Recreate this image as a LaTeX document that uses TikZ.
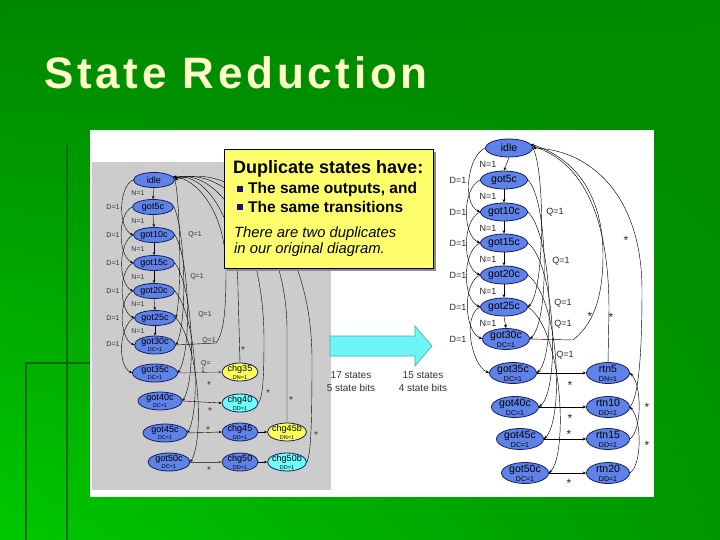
\documentclass[tikz,border=0pt]{standalone}
\usepackage{fontspec}
\setmainfont{Liberation Sans}
\newfontfamily\titlefont{Liberation Sans}[LetterSpace=8.5]
\usetikzlibrary{shapes.geometric,arrows.meta,shadings}
\definecolor{bgA}{RGB}{0,134,0}
\definecolor{bgB}{RGB}{0,138,0}
\definecolor{bgC}{RGB}{0,200,0}
\definecolor{bgD}{RGB}{0,150,0}
\definecolor{decoline}{RGB}{0,105,0}
\definecolor{titlecol}{RGB}{255,255,200}
\definecolor{stblue}{RGB}{95,130,232}
\definecolor{stline}{RGB}{20,30,100}
\definecolor{styel}{RGB}{255,255,90}
\definecolor{stcyan}{RGB}{110,255,255}
\definecolor{panelgray}{RGB}{204,204,204}
\definecolor{notebox}{RGB}{255,255,110}
\definecolor{bulletcol}{RGB}{20,20,120}
\definecolor{arrfill}{RGB}{110,245,245}
\definecolor{arrline}{RGB}{70,170,170}
\newcommand\sublab[1]{{\fontsize{7}{7}\selectfont #1}}
\newcommand\lsublab[1]{{\fontsize{5.5}{5.5}\selectfont #1}}
\tikzset{
  st/.style={ellipse, draw=stline, line width=0.8pt, inner sep=-6pt, align=center, text=black},
  rs/.style={st, fill=stblue, minimum width=47pt, minimum height=18pt, font=\fontsize{10.5}{9}\selectfont},
  rs2/.style={rs, minimum height=21pt},
  ls/.style={st, fill=stblue, minimum width=41pt, minimum height=15pt, font=\fontsize{9}{7.5}\selectfont},
  ls2/.style={ls, minimum height=18pt},
  ed/.style={draw=black, line width=0.45pt, -{Stealth[length=3.5pt,width=3pt]}},
  led/.style={draw=black, line width=0.4pt, -{Stealth[length=3pt,width=2.6pt]}},
  rl/.style={font=\fontsize{9}{9}\selectfont, inner sep=0pt, text=black!85},
  ll/.style={font=\fontsize{7}{7}\selectfont, inner sep=0pt, text=black!80},
  rstar/.style={font=\fontsize{12}{12}\selectfont, inner sep=0pt, text=black!85},
  lstar/.style={font=\fontsize{10}{10}\selectfont, inner sep=0pt, text=black!80},
}
\begin{document}
\begin{tikzpicture}[x=1pt,y=-1pt]
\useasboundingbox (0,0) rectangle (720,540);
% background
\shade[upper left=bgA, upper right=bgB, lower left=bgC, lower right=bgD] (0,0) rectangle (720,540);
\draw[decoline, line width=2pt] (67,145) -- (67,540);
\draw[decoline, line width=2pt] (25,363) -- (90,363);
\draw[decoline, line width=2pt] (26,363) -- (26,540);
% title
\node[anchor=base west, inner sep=0, text=titlecol, font=\titlefont\bfseries\fontsize{44}{44}\selectfont] (title) at (44,89) {State Reduction};
% panels
\fill[white] (90,130) rectangle (654,497);
\fill[panelgray] (92,162) rectangle (331,490);

% ---------------- left diagram ----------------
\node[ls] (li) at (154,180) {idle};
\node[ls] (l5) at (153,207) {got5c};
\node[ls] (l10) at (154,235) {got10c};
\node[ls] (l15) at (154,263) {got15c};
\node[ls] (l20) at (154,291) {got20c};
\node[ls] (l25) at (155,318) {got25c};
\node[ls2] (l30) at (155,345) {got30c\\\lsublab{DC=1}};
\node[ls2, minimum width=45pt] (l35) at (155,373) {got35c\\\lsublab{DC=1}};
\node[ls2, minimum width=44pt] (l40) at (160,401) {got40c\\\lsublab{DC=1}};
\node[ls2, minimum width=44pt] (l45) at (165,433) {got45c\\\lsublab{DC=1}};
\node[ls2, minimum width=42pt] (l50) at (169,462) {got50c\\\lsublab{DC=1}};
\node[ls2, fill=styel, minimum width=36pt] (c35) at (240,372) {chg35\\\lsublab{DN=1}};
\node[ls2, fill=stcyan, minimum width=36pt] (c40) at (240,403) {chg40\\\lsublab{DD=1}};
\node[ls2, minimum width=36pt] (c45) at (240,432) {chg45\\\lsublab{DD=1}};
\node[ls2, fill=styel, minimum width=39pt] (c45b) at (287,432) {chg45b\\\lsublab{DN=1}};
\node[ls2, minimum width=36pt] (c50) at (240,462) {chg50\\\lsublab{DD=1}};
\node[ls2, fill=stcyan, minimum width=39pt] (c50b) at (287,462) {chg50b\\\lsublab{DD=1}};

\foreach \a/\b in {li/l5, l5/l10, l10/l15, l15/l20, l20/l25, l25/l30}
  \draw[led] (\a.south) -- (\b.north);
\foreach \a/\b in {li/l10, l5/l15, l10/l20, l15/l25, l20/l30, l25/l35}
  \draw[led] (\a.west) .. controls +(-15,7) and +(-15,-7) .. (\b.west);
\draw[led] (li.east) .. controls (180,200) and (182,290) .. (l25.east);
\draw[led] (l5.east) .. controls (185,230) and (188,320) .. (l30.east);
\draw[led] (l10.east) .. controls (190,260) and (192,350) .. (l35.east);
\draw[led] (l15.east) .. controls (194,290) and (196,380) .. (l40.east);
\draw[led] (l20.east) .. controls (198,320) and (200,410) .. (l45.east);
\draw[led] (l25.east) .. controls (200,345) and (204,440) .. (l50.east);
\draw[led] (l30.east) -- (216,343) .. controls (224,333) and (226,310) .. (226,270) .. controls (226,210) and (195,178) .. (li.10);
\draw[led] (c35.north) -- (238,290) .. controls (238,220) and (205,172) .. (li.8);
\draw[led] (c40.east) .. controls (262,398) and (264,385) .. (264,340) .. controls (264,230) and (215,168) .. (li.6);
\draw[led] (c45b.north) -- (287,330) .. controls (287,230) and (225,165) .. (li.4);
\draw[led] (c50b.east) .. controls (310,455) and (312,440) .. (312,360) .. controls (312,230) and (235,160) .. (li.east);
\draw[led, draw=black!70] (l35.east) -- (c35.west);
\draw[led] (l40.east) -- (c40.west);
\draw[led] (l45.east) -- (c45.west);
\draw[led, draw=black!70] (l50.east) -- (c50.west);
\draw[led] (c45.east) -- (c45b.west);
\draw[led] (c50.east) -- (c50b.west);

\foreach \y [count=\i] in {193,221,249,277,304,331}
  \node[ll] (ln\i) at (138,\y) {N=1};
\foreach \y [count=\i] in {207,235,263,291,318,344}
  \node[ll] (ld\i) at (113,\y) {D=1};
\node[ll] (lq1) at (195,235) {Q=1};
\node[ll] (lq2) at (197,277) {Q=1};
\node[ll] (lq3) at (205,315) {Q=1};
\node[ll] (lq4) at (209,341) {Q=1};
\node[ll, align=left] (lq5) at (206,367) {Q=\\1};
\foreach \p [count=\i] in {(243,350),(209,385),(268,393),(210,411),(291,400),(208,430),(316,435),(209,470)}
  \node[lstar] (ls\i) at \p {*};

% ---------------- note box ----------------
\fill[black!45] (227,152) rectangle (436,271);
\draw[fill=notebox, line width=0.8pt] (224,149) rectangle (433,268);
\node[anchor=base west, inner sep=0, font=\fontsize{18}{18}\selectfont\bfseries] (nb1) at (233,174) {Duplicate states have:};
\fill[bulletcol] (237,186) rectangle (243,192);
\node[anchor=base west, inner sep=0, font=\fontsize{15.5}{15.5}\selectfont\bfseries] (nb2) at (248,194) {The same outputs, and};
\fill[bulletcol] (237,204) rectangle (243,210);
\node[anchor=base west, inner sep=0, font=\fontsize{15.5}{15.5}\selectfont\bfseries] (nb3) at (248,212) {The same transitions};
\node[anchor=base west, inner sep=0, font=\fontsize{14.8}{14.8}\selectfont\itshape] (nb4) at (234,237) {There are two duplicates};
\node[anchor=base west, inner sep=0, font=\fontsize{14.8}{14.8}\selectfont\itshape] (nb5) at (234,254) {in our original diagram.};

% ---------------- big arrow ----------------
\draw[arrline, fill=arrfill, line width=0.6pt] (330,336) -- (415,336) -- (415,326) -- (432,346) -- (415,366) -- (415,356) -- (330,356) -- cycle;
\node[font=\fontsize{10}{10}\selectfont, text=black!80] (s17a) at (351,375) {17 states};
\node[font=\fontsize{10}{10}\selectfont, text=black!80] (s17b) at (351,388) {5 state bits};
\node[font=\fontsize{10}{10}\selectfont, text=black!80] (s15a) at (423,375) {15 states};
\node[font=\fontsize{10}{10}\selectfont, text=black!80] (s15b) at (423,388) {4 state bits};

% ---------------- right diagram ----------------
\node[rs] (ri) at (509,148) {idle};
\node[rs] (r5) at (504,180) {got5c};
\node[rs] (r10) at (504,212) {got10c};
\node[rs] (r15) at (504,243) {got15c};
\node[rs] (r20) at (504,275) {got20c};
\node[rs] (r25) at (504,307) {got25c};
\node[rs2] (r30) at (506,339) {got30c\\\sublab{DC=1}};
\node[rs2] (r35) at (513,373) {got35c\\\sublab{DC=1}};
\node[rs2] (r40) at (515,407) {got40c\\\sublab{DC=1}};
\node[rs2] (r45) at (520,439) {got45c\\\sublab{DC=1}};
\node[rs2] (r50) at (525,473) {got50c\\\sublab{DC=1}};
\node[rs2, minimum width=43pt] (t5) at (608,373) {rtn5\\\sublab{DN=1}};
\node[rs2, minimum width=43pt] (t10) at (608,407) {rtn10\\\sublab{DD=1}};
\node[rs2, minimum width=43pt] (t15) at (608,439) {rtn15\\\sublab{DD=1}};
\node[rs2, minimum width=43pt] (t20) at (608,473) {rtn20\\\sublab{DD=1}};

\foreach \a/\b in {ri/r5, r5/r10, r10/r15, r15/r20, r20/r25, r25/r30}
  \draw[ed] (\a.south) -- (\b.north);
\foreach \a/\b in {ri/r10, r5/r15, r10/r20, r15/r25, r20/r30, r25/r35}
  \draw[ed] (\a.west) .. controls +(-18,8) and +(-18,-8) .. (\b.west);
\draw[ed] (ri.east) .. controls (545,170) and (545,290) .. (r25.east);
\draw[ed] (r5.east) .. controls (548,200) and (550,320) .. (r30.east);
\draw[ed] (r10.east) .. controls (552,235) and (556,355) .. (r35.east);
\draw[ed] (r15.east) .. controls (556,265) and (560,390) .. (r40.east);
\draw[ed] (r20.east) .. controls (560,300) and (564,420) .. (r45.east);
\draw[ed] (r25.east) .. controls (563,330) and (568,455) .. (r50.east);
\draw[ed] (r30.east) -- (573,340) .. controls (592,325) and (603,300) .. (603,255) .. controls (603,195) and (575,158) .. (ri.10);
\draw[ed] (t5.north) -- (609,310) .. controls (609,230) and (590,165) .. (ri.5);
\draw[ed] (t10.east) .. controls (638,398) and (642,360) .. (642,290) .. controls (642,195) and (590,150) .. (ri.east);
\draw[ed] (t15.east) .. controls (642,430) and (642,385) .. (t5.east);
\draw[ed] (t20.east) .. controls (642,465) and (642,420) .. (t10.east);
\draw[ed] (r35.east) -- (t5.west);
\draw[ed] (r40.east) -- (t10.west);
\draw[ed] (r45.east) -- (t15.west);
\draw[ed] (r50.east) -- (t20.west);

\foreach \y [count=\i] in {164,196,228,259,291,323}
  \node[rl] (rn\i) at (488,\y) {N=1};
\foreach \y [count=\i] in {180,212,243,275,307,339}
  \node[rl] (rd\i) at (458,\y) {D=1};
\foreach \p [count=\i] in {(555,212),(561,261),(563,303),(563,324),(565,355)}
  \node[rl] (rq\i) at \p {Q=1};
\foreach \p [count=\i] in {(626,240),(590,316),(611,317),(647,407),(647,445),(570,385),(570,418),(569,434),(569,483)}
  \node[rstar] (rs\i) at \p {*};
\end{tikzpicture}
\end{document}
